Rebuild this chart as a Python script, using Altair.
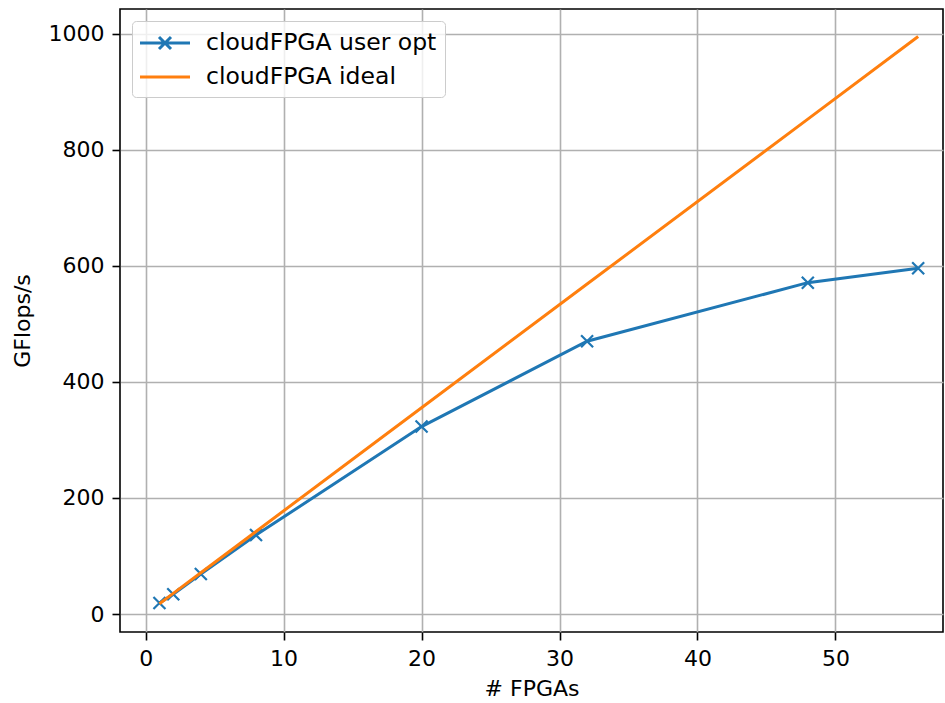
import altair as alt
import pandas as pd

# Number of FPGAs used in each run
fpgas = [1, 2, 4, 8, 20, 32, 48, 56]
# Measured throughput (GFlops/s) with user optimisations
user_opt = [19, 34, 69, 136, 323, 470, 571, 596]
# Ideal linear scaling (GFlops/s)
ideal = [17.8, 35.5, 71.1, 142.2, 355.4, 568.6, 852.9, 995.2]

series_names = ["cloudFPGA user opt", "cloudFPGA ideal"]
series_colors = ["#1f77b4", "#ff7f0e"]

df_opt = pd.DataFrame({"fpgas": fpgas, "gflops": user_opt, "series": series_names[0]})
df_ideal = pd.DataFrame({"fpgas": fpgas, "gflops": ideal, "series": series_names[1]})
df_all = pd.concat([df_opt, df_ideal], ignore_index=True)

FONT = "DejaVu Sans"

x_enc = alt.X(
    "fpgas:Q",
    title="# FPGAs",
    scale=alt.Scale(domain=[-1.86, 57.8], nice=False, zero=False),
    axis=alt.Axis(values=[0, 10, 20, 30, 40, 50], format="d"),
)
y_enc = alt.Y(
    "gflops:Q",
    title="GFlops/s",
    scale=alt.Scale(domain=[-31, 1042.6], nice=False, zero=False),
    axis=alt.Axis(values=[0, 200, 400, 600, 800, 1000], format="d"),
)

# Measured series: line plus "x" markers
opt_line = alt.Chart(df_opt).mark_line(color=series_colors[0], strokeWidth=3).encode(x=x_enc, y=y_enc)
opt_marks = alt.Chart(df_opt).mark_point(
    shape="M-1,-1L1,1M-1,1L1,-1",
    filled=False,
    color=series_colors[0],
    strokeWidth=2.2,
    size=144,
    opacity=1,
).encode(x=x_enc, y=y_enc)

# Ideal scaling line
ideal_line = alt.Chart(df_ideal).mark_line(color=series_colors[1], strokeWidth=3).encode(x=x_enc, y=y_enc)

# Invisible layer carrying the legend (line handle, with a cross for the measured series)
legend_layer = alt.Chart(df_all).mark_point(filled=False, opacity=0).encode(
    x=x_enc,
    y=y_enc,
    color=alt.Color(
        "series:N",
        title=None,
        scale=alt.Scale(domain=series_names, range=series_colors),
        legend=alt.Legend(
            orient="none",
            legendX=12,
            legendY=12,
            padding=8,
            symbolSize=625,
            symbolStrokeWidth=3,
            symbolFillColor="transparent",
            symbolOpacity=1,
            symbolOffset=11,
            labelOffset=27,
            labelLimit=500,
            labelFont=FONT,
            labelFontSize=23.5,
            labelColor="#000000",
            rowPadding=8,
            fillColor="rgba(255,255,255,0.8)",
            strokeColor="#cccccc",
            cornerRadius=4,
        ),
    ),
    shape=alt.Shape(
        "series:N",
        title=None,
        scale=alt.Scale(
            domain=series_names,
            range=[
                "M-2,0H2M-0.48,-0.48L0.48,0.48M-0.48,0.48L0.48,-0.48",
                "M-2,0H2",
            ],
        ),
    ),
)

chart = (
    alt.layer(opt_line, opt_marks, ideal_line, legend_layer)
    .properties(
        width=823,
        height=623,
        autosize=alt.AutoSizeParams(type="none"),
        padding={"left": 120, "top": 9, "right": 2, "bottom": 71},
        background="white",
    )
    .configure_view(stroke="#000000", strokeWidth=1.6)
    .configure_axis(
        grid=True,
        gridColor="#b0b0b0",
        gridWidth=1.6,
        domain=False,
        ticks=True,
        tickColor="#000000",
        tickSize=8,
        tickWidth=1.6,
        labelFont=FONT,
        labelFontSize=22,
        labelColor="#000000",
        labelPadding=8,
        titleFont=FONT,
        titleFontSize=22,
        titleFontWeight="normal",
        titleColor="#000000",
    )
    .configure_axisX(titlePadding=9)
    .configure_axisY(titlePadding=14)
)

chart.save("out.html", embed_options={"renderer": "svg", "actions": False})
